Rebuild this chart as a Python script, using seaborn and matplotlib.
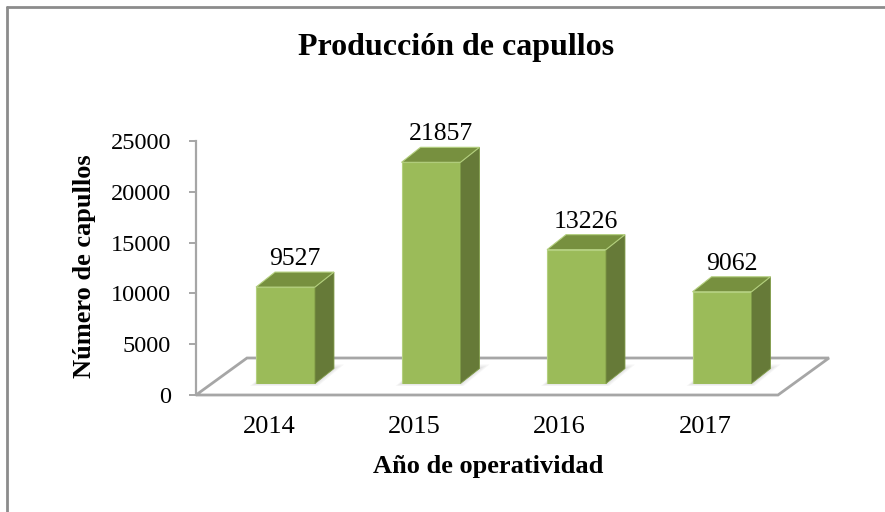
"""Producción de capullos: barras con efecto 3D al estilo Excel."""

import matplotlib

matplotlib.use("Agg")
import matplotlib.pyplot as plt
from matplotlib.lines import Line2D
from matplotlib.patches import Polygon
import numpy as np
import seaborn as sns

years = ["2014", "2015", "2016", "2017"]
capullos = [9527, 21857, 13226, 9062]
y_ticks = [0, 5000, 10000, 15000, 20000, 25000]

FRONT = "#9BBB59"
SIDE = "#667A38"
TOP = "#77903F"
GRID = "#A6A6A6"
SERIF = "Liberation Serif"

W, H, DPI = 885, 512, 100
DEPTH = np.array([19, 15])  # bar depth in pixels
FLOOR = np.array([51, 37])  # floor depth in pixels

sns.set_theme(style="white")
plt.rcParams["font.family"] = [SERIF, "DejaVu Serif"]
plt.rcParams["text.color"] = "black"

fig = plt.figure(figsize=(W / DPI, H / DPI), dpi=DPI)

# front axis (ticks, floor) and bar axes sitting a bit further back
ax2 = fig.add_axes([196 / W, (H - 395) / H, 582 / W, 254 / H], zorder=0)
ax = fig.add_axes([212.75 / W, (H - 383.5) / H, 582 / W, 253 / H], zorder=1)

sns.barplot(x=years, y=capullos, color=FRONT, saturation=1, width=0.405,
            ax=ax, edgecolor="#B3CF7E", linewidth=0.8)
ax.set_xlim(-0.5, 3.5)
ax.set_ylim(0, 25000)
ax.axis("off")

ax2.set_xlim(-0.5, 3.5)
ax2.set_ylim(0, 25000)
ax2.set_xticks(range(len(years)), years)
ax2.set_yticks(y_ticks)
ax2.patch.set_visible(False)
sns.despine(ax=ax2, bottom=True)
ax2.spines["left"].set_color(GRID)
ax2.spines["left"].set_linewidth(1.6)
ax2.tick_params(axis="y", length=5, width=1.4, color=GRID, labelsize=17.5,
                labelcolor="black", pad=13, left=True)
ax2.tick_params(axis="x", length=0, labelsize=19, labelcolor="black", pad=15)

fig.canvas.draw()

# floor
t2 = ax2.transAxes
fl, fr = t2.transform((0, 0)), t2.transform((1, 0))
floor = Polygon([fl, fr, fr + FLOOR, fl + FLOOR], closed=True,
                facecolor="white", edgecolor=GRID, linewidth=2,
                transform=None, zorder=-1)
fig.add_artist(floor)

# side and top faces, plus a soft shadow
td = ax.transData
for p in ax.patches[:len(capullos)]:
    x0, w, h = p.get_x(), p.get_width(), p.get_height()
    bl, br = td.transform((x0, 0)), td.transform((x0 + w, 0))
    tl, tr = td.transform((x0, h)), td.transform((x0 + w, h))
    for grow in [10, 7, 4, 2]:
        g = np.array([grow, grow * 0.4])
        shadow = Polygon([bl + [-grow * 0.6, -grow * 0.25], br + [grow * 0.3, -grow * 0.25],
                          br + DEPTH + g, bl + DEPTH + [0, grow * 0.4]],
                         closed=True, facecolor="#808080", edgecolor="none",
                         alpha=0.07, transform=None, zorder=0.8)
        fig.add_artist(shadow)
    side = Polygon([br, tr, tr + DEPTH, br + DEPTH], closed=True,
                   facecolor=SIDE, edgecolor="#7E9A45", linewidth=0.6,
                   transform=None, zorder=3)
    top = Polygon([tl, tr, tr + DEPTH, tl + DEPTH], closed=True,
                  facecolor=TOP, edgecolor="#B3CF7E", linewidth=0.8,
                  transform=None, zorder=3)
    ax.add_artist(side)
    ax.add_artist(top)
    ax.annotate(f"{h:.0f}", xy=(x0 + w / 2, h), xycoords="data",
                xytext=(DEPTH[0] / 2, DEPTH[1] + 13), textcoords="offset pixels",
                ha="center", va="center", fontsize=18.5, color="black")

fig.text(456 / W, 1 - 47 / H, "Producción de capullos", ha="center",
         va="center", fontsize=23, fontweight="bold", color="black")
fig.text(488 / W, 1 - 467 / H, "Año de operatividad", ha="center",
         va="center", fontsize=19, fontweight="bold", color="black")
fig.text(85 / W, 1 - 266 / H, "Número de capullos", ha="center",
         va="center", rotation=90, fontsize=19, fontweight="bold",
         color="black")

# chart frame (only the left and top edges fall inside the picture)
fig.add_artist(Line2D([7 / W, 7 / W], [0, 1 - 7 / H], color="#8C8C8C",
                      linewidth=2, transform=fig.transFigure))
fig.add_artist(Line2D([7 / W, 1], [1 - 7 / H, 1 - 7 / H], color="#8C8C8C",
                      linewidth=2, transform=fig.transFigure))

fig.savefig("out.png", dpi=DPI)
